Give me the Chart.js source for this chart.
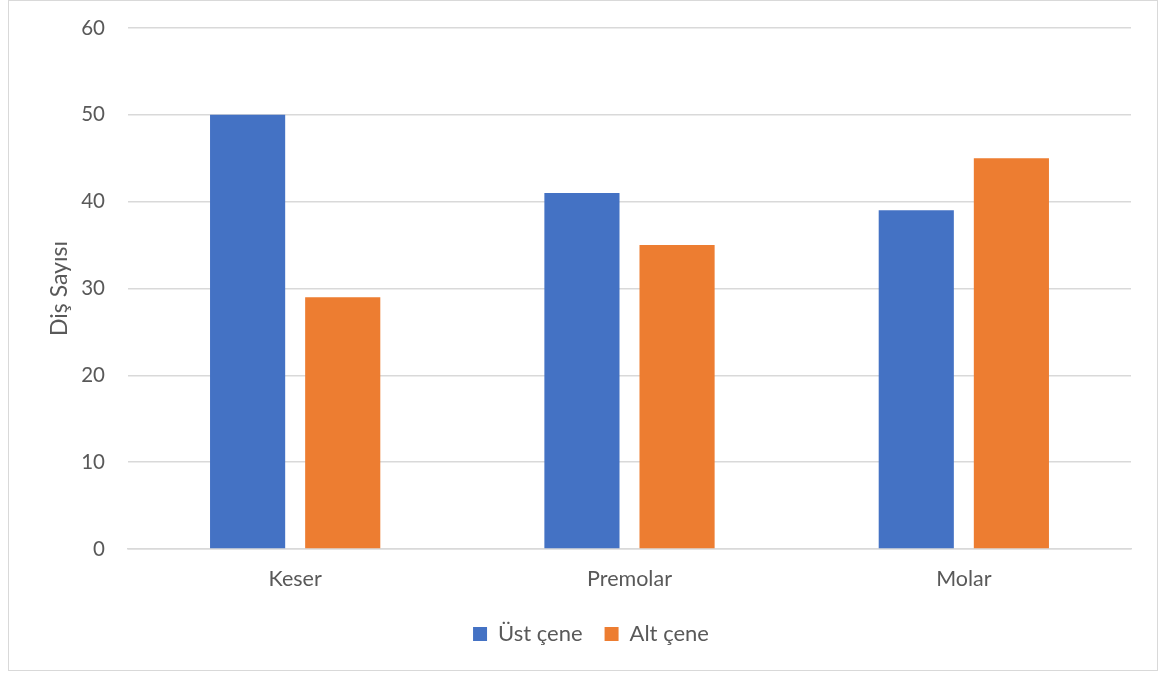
<!DOCTYPE html>
<html>
<head>
<meta charset="utf-8">
<title>Diş Sayısı</title>
<script src="https://cdn.jsdelivr.net/npm/chart.js@4.4.1/dist/chart.umd.min.js"></script>
<style>
  html, body { margin: 0; padding: 0; background: #fff; }
  #frame {
    position: absolute; left: 8px; top: 0px;
    width: 1150px; height: 671px;
    box-sizing: border-box; border: 1px solid #d9d9d9;
  }
</style>
</head>
<body>
<div id="frame"><canvas id="myChart" width="1148" height="669"></canvas></div>
<script>
// chart data
const categories = ['Keser', 'Premolar', 'Molar'];
const ustCene = [50, 41, 39];
const altCene = [29, 35, 45];
const yTicks = [0, 10, 20, 30, 40, 50, 60];

const textColor = '#595959';
const gridColor = '#d9d9d9';
const family = 'Lato, "Open Sans", sans-serif';

Chart.defaults.font.family = family;
Chart.defaults.color = textColor;

// nudge the legend so it sits centred under the whole frame
const legendShift = {
    id: 'legendShift',
    afterLayout(chart) {
        chart.legend.left += 21;
        chart.legend.right += 21;
    }
};

const ctx = document.getElementById('myChart').getContext('2d');
const myChart = new Chart(ctx, {
    type: 'bar',
    data: {
        labels: categories,
        datasets: [{
            label: 'Üst çene',
            data: ustCene,
            backgroundColor: '#4472c4',
            categoryPercentage: 0.569,
            barPercentage: 0.79
        }, {
            label: 'Alt çene',
            data: altCene,
            backgroundColor: '#ed7d31',
            categoryPercentage: 0.569,
            barPercentage: 0.79
        }]
    },
    plugins: [legendShift],
    options: {
        responsive: false,
        animation: false,
        layout: { padding: { left: 0, right: 26, top: 27, bottom: 15 } },
        plugins: {
            tooltip: { enabled: false },
            legend: {
                position: 'bottom',
                labels: { boxWidth: 14, boxHeight: 14, padding: 22, font: { family: family, size: 22 }, color: textColor }
            }
        },
        scales: {
            x: {
                grid: { display: false, drawTicks: false },
                border: { display: true, color: gridColor, width: 1.5 },
                ticks: { font: { family: family, size: 21.5 }, color: textColor, padding: 17 },
                afterFit: (scale) => { scale.height = 52; }
            },
            y: {
                min: 0,
                max: 60,
                afterBuildTicks: (scale) => { scale.ticks = yTicks.map(v => ({ value: v })); },
                grid: { color: gridColor, lineWidth: 1.5, drawTicks: false },
                border: { display: false },
                ticks: { font: { family: family, size: 20.5 }, color: textColor, padding: 23 },
                title: {
                    display: true,
                    text: 'Diş Sayısı',
                    font: { family: family, size: 23 },
                    color: textColor,
                    padding: { top: 37, bottom: 0 }
                },
                afterFit: (scale) => {
                    scale.width = 119;
                    scale.paddingTop = 0;
                    scale.paddingBottom = 0;
                }
            }
        }
    }
});
</script>
</body>
</html>
